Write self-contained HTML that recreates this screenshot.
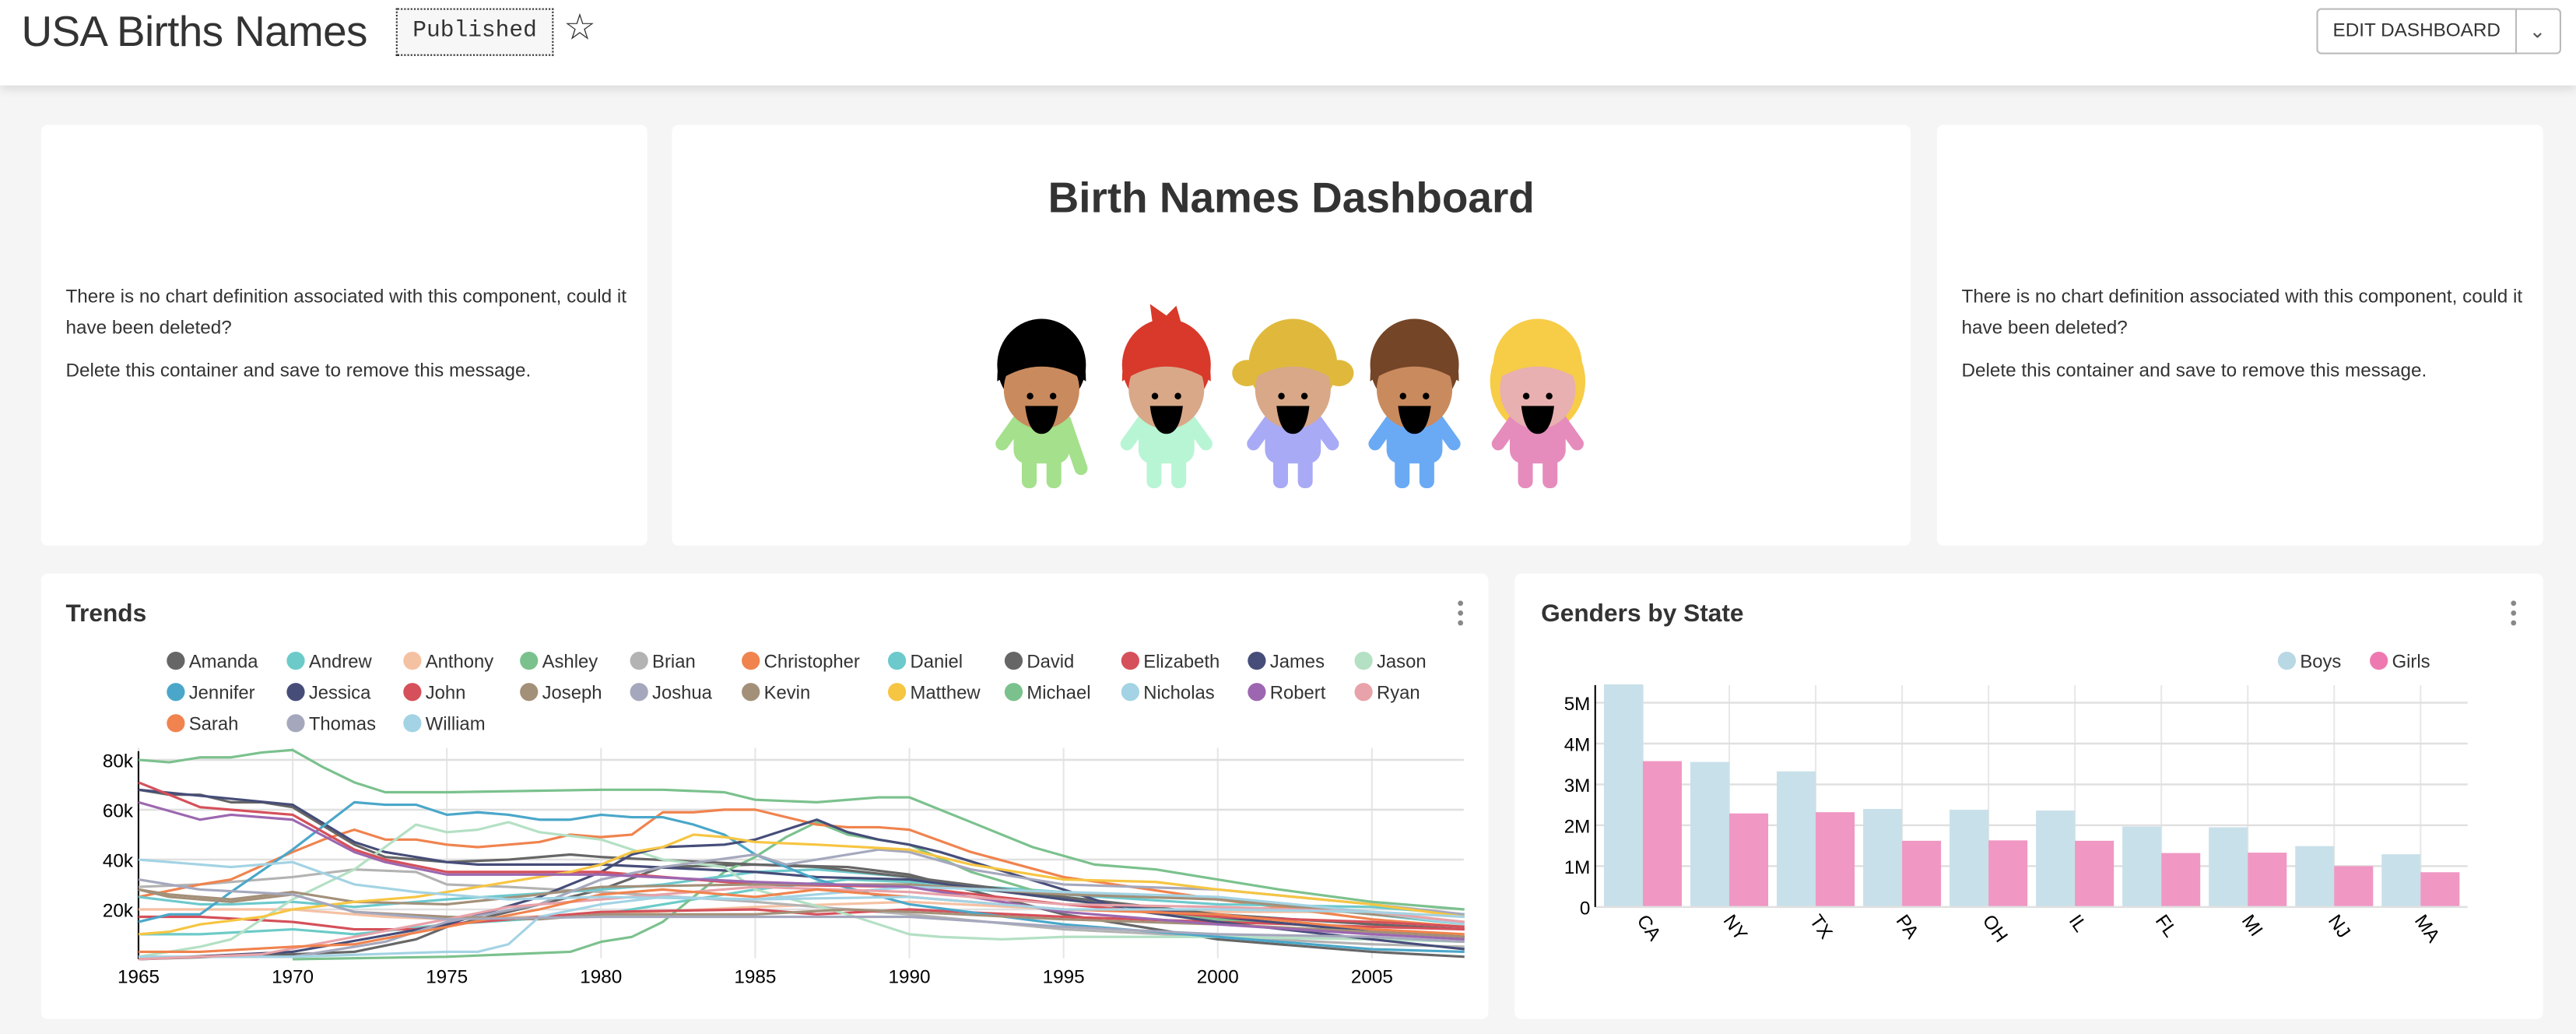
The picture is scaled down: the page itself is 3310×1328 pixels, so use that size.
<!DOCTYPE html>
<html><head><meta charset="utf-8">
<style>
html,body{margin:0;padding:0;background:#f5f5f5;overflow:hidden}
body{width:3310px;height:1328px}
#w{position:absolute;left:0;top:0;width:1568px;height:629px;transform:scale(2.11097);transform-origin:0 0;font-family:"Liberation Sans",Arial,sans-serif;color:#333}
.hdr{position:absolute;left:0;top:0;width:1568px;height:52px;background:#fff;box-shadow:0 2px 6px rgba(0,0,0,0.12)}
.card{position:absolute;background:#fff;border-radius:4px}
.msg{position:absolute;font-size:11.5px;line-height:19px;color:#333}
.msg p{margin:0 0 7px 0}
.abs{position:absolute;white-space:nowrap}
</style></head><body><div id="w">
<div class="hdr">
 <div class="abs" style="left:13px;top:4px;font-size:26px;color:#333;letter-spacing:-0.3px">USA Births Names</div>
 <div class="abs" style="left:241px;top:5px;width:94px;height:27px;border:1px dotted #333;background:#f7f7f7;font-family:'Liberation Mono',monospace;font-size:14px;line-height:27px;text-align:center">Published</div>
 <div class="abs" style="left:343px;top:4px;font-size:22px;color:#333">☆</div>
 <div class="abs" style="left:1410px;top:5px;width:120px;height:26px;border:1px solid #bbb;border-radius:3px 0 0 3px;font-size:11.5px;line-height:26px;text-align:center;color:#333">EDIT DASHBOARD</div>
 <div class="abs" style="left:1531px;top:5px;width:27px;height:26px;border:1px solid #bbb;border-left:none;border-radius:0 3px 3px 0;font-size:12px;line-height:26px;text-align:center;color:#555">⌄</div>
</div>

<div class="card" style="left:25px;top:76px;width:369px;height:256px"></div>
<div class="msg" style="left:40px;top:172px;width:345px"><p>There is no chart definition associated with this component, could it have been deleted?</p><p>Delete this container and save to remove this message.</p></div>
<div class="card" style="left:409px;top:76px;width:754px;height:256px"></div>
<div class="abs" style="left:409px;top:105px;width:754px;text-align:center;font-size:26px;font-weight:bold;color:#333">Birth Names Dashboard</div>
<div class="card" style="left:1179px;top:76px;width:369px;height:256px"></div>
<div class="msg" style="left:1194px;top:172px;width:345px"><p>There is no chart definition associated with this component, could it have been deleted?</p><p>Delete this container and save to remove this message.</p></div>

<svg class="abs" style="left:0;top:0" width="1568" height="340" id="kids"></svg>

<div class="card" style="left:25px;top:349px;width:881px;height:271px"></div>
<div class="abs" style="left:40px;top:365px;font-size:15px;font-weight:bold">Trends</div>
<div class="card" style="left:922px;top:349px;width:626px;height:271px"></div>
<div class="abs" style="left:938px;top:365px;font-size:15px;font-weight:bold">Genders by State</div>
<svg class="abs" style="left:0;top:340px" width="1568" height="289" id="ch"></svg>
</div>
<script>
var NS="http://www.w3.org/2000/svg";
function el(p,t,a,txt){var e=document.createElementNS(NS,t);for(var k in a)e.setAttribute(k,a[k]);if(txt!=null)e.textContent=txt;p.appendChild(e);return e;}
var K=document.getElementById('kids');
var kids=[[634,'#000','#c98a5e','#a5e08c',0],[710,'#d8392b','#d8a888','#b8f5d4',1],[787,'#e0b93c','#d8a888','#a9aaf5',2],[861,'#744526','#c98a5e','#6aaaf5',0],[936,'#f7cc47','#e8b0b0','#e58cbd',3]];
kids.forEach(function(k,i){var x=k[0];
 if(k[4]==3)el(K,'ellipse',{cx:x,cy:232,rx:29,ry:32,fill:k[1]});
 if(k[4]==1)el(K,'path',{d:'M'+(x-8)+' 200 L'+(x-10)+' 185 L'+(x)+' 192 L'+(x+6)+' 186 L'+(x+10)+' 200Z',fill:k[1]});
 if(k[4]==2){el(K,'ellipse',{cx:x-28,cy:227,rx:9,ry:8,fill:k[1]});el(K,'ellipse',{cx:x+28,cy:227,rx:9,ry:8,fill:k[1]});}
 el(K,'rect',{x:x-17,y:252,width:34,height:30,rx:8,fill:k[3]});
 el(K,'rect',{x:x-12,y:272,width:9,height:25,rx:4,fill:k[3]});
 el(K,'rect',{x:x+3,y:272,width:9,height:25,rx:4,fill:k[3]});
 el(K,'line',{x1:x-14,y1:256,x2:x-24,y2:270,stroke:k[3],'stroke-width':8,'stroke-linecap':'round'});
 el(K,'line',{x1:x+14,y1:256,x2:x+24,y2:(i==0?285:270),stroke:k[3],'stroke-width':8,'stroke-linecap':'round'});
 el(K,'ellipse',{cx:x,cy:222,rx:27,ry:28,fill:k[1]});
 el(K,'ellipse',{cx:x,cy:237,rx:23,ry:24,fill:k[2]});
 el(K,'path',{d:'M'+(x-27)+' 232 Q'+(x-27)+' 196 '+x+' 194 Q'+(x+27)+' 196 '+(x+27)+' 232 Q'+x+' 214 '+(x-27)+' 232Z',fill:k[1]});
 el(K,'circle',{cx:x-7,cy:241,r:2,fill:'#000'});el(K,'circle',{cx:x+7,cy:241,r:2,fill:'#000'});
 el(K,'path',{d:'M'+(x-10)+' 247 L'+(x+10)+' 247 Q'+(x+8)+' 264 '+x+' 264 Q'+(x-8)+' 264 '+(x-10)+' 247Z',fill:'#000'});
});
var C=document.getElementById('ch');var oy=340;
[889,1530].forEach(function(x){[367,373,379].forEach(function(y){el(C,'circle',{cx:x,cy:y-oy,r:1.6,fill:'#888'})})});
var cols={Amanda:'#666666',Andrew:'#6ccbc8',Anthony:'#f5c1a3',Ashley:'#7bc18d',Brian:'#b3b3b3',Christopher:'#f0834e',Daniel:'#6cc9cc',David:'#666666',Elizabeth:'#d5505a',James:'#464d79',Jason:'#b4e0c4',Jennifer:'#4aa7c9',Jessica:'#464d79',John:'#d5505a',Joseph:'#a39079',Joshua:'#a5a8bd',Kevin:'#a39079',Matthew:'#f6c542',Michael:'#7bc18d',Nicholas:'#a3d3e4',Robert:'#9c67b0',Ryan:'#e8a2a9',Sarah:'#f0834e',Thomas:'#a5a8bd',William:'#a3d3e4'};
var names=Object.keys(cols);var lx=[107,180,251,322,389,457,546,617,688,765,830];
names.forEach(function(n,i){var r=Math.floor(i/11),c=i%11;var y=402+r*19-oy;el(C,'circle',{cx:lx[c],cy:y,r:5.5,fill:cols[n]});el(C,'text',{x:lx[c]+8,y:y+4.2,'font-size':11.3,fill:'#333'},n);});
function X(yr){return 84.3+(yr-1965)*18.77} function Y(v){return 583.6-v*1.516-oy}
for(var yr=1965;yr<=2005;yr+=5){var x=X(yr);el(C,'line',{x1:x,y1:455-oy,x2:x,y2:583-oy,stroke:'#e6e6e6','stroke-width':1});el(C,'text',{x:x,y:598-oy,'font-size':11.5,'text-anchor':'middle',fill:'#000'},''+yr);}
[20,40,60,80].forEach(function(v){el(C,'line',{x1:84,y1:Y(v),x2:891,y2:Y(v),stroke:'#e0e0e0','stroke-width':1.2});el(C,'text',{x:81,y:Y(v)+4.5,'font-size':11.5,'text-anchor':'end',fill:'#000'},v+'k');});
el(C,'line',{x1:84.3,y1:457-oy,x2:84.3,y2:583.6-oy,stroke:'#000','stroke-width':1});
var D={
Michael:[[1965,80],[1966,79],[1967,81],[1968,81],[1969,83],[1970,84],[1971,77],[1972,71],[1973,67],[1975,67],[1980,68],[1982,68],[1984,67],[1985,64],[1987,63],[1989,65],[1990,65],[1992,55],[1994,45],[1996,38],[1998,36],[2000,32],[2002,28],[2005,23],[2008,20]],
Ashley:[[1970,0],[1975,1],[1977,2],[1979,3],[1980,7],[1981,9],[1982,15],[1984,35],[1985,41],[1986,49],[1987,55],[1988,50],[1990,46],[1992,35],[1995,24],[2000,16],[2005,12],[2008,9]],
James:[[1965,68],[1970,62],[1972,47],[1973,43],[1975,39],[1976,38],[1980,38],[1985,35],[1987,33],[1990,32],[1995,24],[2000,17],[2005,11],[2008,9]],
David:[[1965,68],[1966,66],[1967,66],[1968,63],[1969,63],[1970,61],[1972,46],[1973,41],[1975,39],[1977,40],[1979,42],[1980,41],[1985,38],[1987,37],[1990,33],[1995,25],[2000,18],[2005,14],[2008,12]],
John:[[1965,71],[1967,61],[1970,58],[1972,44],[1973,40],[1975,35],[1980,35],[1985,30],[1990,29],[1995,22],[2000,17],[2005,15],[2008,13]],
Robert:[[1965,63],[1967,56],[1968,58],[1970,56],[1972,43],[1973,39],[1975,34],[1980,34],[1985,31],[1990,29],[1995,19],[2000,14],[2005,10],[2008,8]],
Jennifer:[[1965,15],[1966,18],[1967,18],[1968,27],[1970,44],[1972,63],[1973,62],[1974,62],[1975,58],[1976,59],[1977,58],[1978,56],[1979,56],[1980,58],[1981,57],[1982,57],[1983,54],[1984,50],[1985,42],[1986,37],[1987,32],[1990,22],[1995,14],[2000,9],[2005,4],[2008,3]],
Christopher:[[1965,25],[1967,30],[1968,32],[1970,43],[1971,48],[1972,52],[1973,48],[1974,48],[1975,46],[1976,45],[1977,46],[1978,47],[1979,50],[1980,49],[1981,50],[1982,59],[1983,59],[1984,60],[1985,60],[1987,54],[1988,53],[1989,53],[1990,52],[1992,43],[1995,33],[2000,24],[2005,16],[2008,13]],
Jessica:[[1965,0],[1970,3],[1975,14],[1978,25],[1980,35],[1981,42],[1982,45],[1984,46],[1985,48],[1987,56],[1988,51],[1989,48],[1990,46],[1991,43],[1995,28],[1997,20],[2000,15],[2005,8],[2008,4]],
Matthew:[[1965,10],[1966,11],[1967,14],[1969,17],[1970,20],[1972,23],[1974,25],[1975,27],[1977,31],[1979,35],[1980,38],[1981,43],[1982,45],[1983,50],[1984,49],[1985,47],[1987,46],[1990,44],[1992,38],[1995,32],[1998,31],[2000,28],[2005,22],[2008,17]],
Jason:[[1965,1],[1967,5],[1968,8],[1970,24],[1972,36],[1974,54],[1975,51],[1976,52],[1977,55],[1978,51],[1980,48],[1982,40],[1984,37],[1985,28],[1988,18],[1990,10],[1991,9],[1993,8],[1995,9],[2000,9],[2005,8],[2008,7]],
Amanda:[[1965,0],[1970,2],[1972,3],[1974,8],[1975,13],[1980,28],[1982,37],[1985,38],[1988,37],[1990,34],[1995,18],[2000,8],[2005,3],[2008,1]],
Brian:[[1965,29],[1967,30],[1970,33],[1972,36],[1974,35],[1975,30],[1977,29],[1980,27],[1985,23],[1990,18],[1995,12],[2000,9],[2005,6],[2008,5]],
Andrew:[[1965,10],[1967,10],[1970,12],[1972,10],[1975,14],[1980,18],[1985,28],[1988,32],[1990,31],[1995,27],[2000,24],[2005,18],[2008,14]],
Daniel:[[1965,25],[1967,22],[1968,22],[1970,23],[1972,21],[1975,24],[1980,28],[1982,30],[1985,35],[1987,36],[1990,33],[1992,28],[1995,26],[2000,22],[2005,21],[2008,18]],
Anthony:[[1965,20],[1967,20],[1970,20],[1973,17],[1975,16],[1980,18],[1985,21],[1990,23],[1995,20],[2000,19],[2005,19],[2008,17]],
Elizabeth:[[1965,17],[1967,17],[1970,15],[1972,12],[1974,12],[1975,14],[1980,19],[1985,20],[1987,18],[1990,20],[1995,17],[2000,15],[2005,13],[2008,12]],
Joseph:[[1965,28],[1966,26],[1968,24],[1970,27],[1972,23],[1975,22],[1978,26],[1980,29],[1985,30],[1990,30],[1995,26],[2000,24],[2005,18],[2008,15]],
Kevin:[[1965,28],[1966,25],[1968,23],[1970,26],[1972,19],[1975,17],[1978,16],[1980,18],[1985,18],[1988,20],[1990,19],[1995,16],[2000,14],[2005,11],[2008,9]],
Joshua:[[1965,1],[1970,1],[1973,7],[1975,15],[1978,22],[1980,32],[1982,37],[1985,42],[1986,38],[1989,44],[1990,43],[1992,36],[1995,30],[2000,28],[2005,22],[2008,18]],
Thomas:[[1965,32],[1967,28],[1970,26],[1972,19],[1975,16],[1980,17],[1985,17],[1990,17],[1995,13],[2000,10],[2005,9],[2008,7]],
William:[[1965,40],[1967,38],[1968,37],[1970,39],[1972,30],[1974,27],[1975,26],[1977,24],[1980,25],[1985,24],[1990,25],[1995,20],[2000,20],[2005,19],[2008,17]],
Nicholas:[[1965,1],[1970,1],[1975,3],[1976,3],[1977,6],[1978,17],[1980,22],[1982,25],[1985,24],[1990,29],[1995,27],[2000,25],[2005,19],[2008,14]],
Ryan:[[1965,0],[1969,2],[1972,9],[1975,16],[1977,21],[1980,24],[1985,29],[1990,27],[1995,22],[2000,21],[2005,19],[2008,15]],
Sarah:[[1965,3],[1967,3],[1970,5],[1972,6],[1975,13],[1978,20],[1980,26],[1982,28],[1985,25],[1987,28],[1990,25],[1995,20],[2000,18],[2005,12],[2008,10]]};
names.forEach(function(n){if(!D[n])return;var p=D[n].map(function(q){return X(q[0]).toFixed(1)+','+Y(q[1]).toFixed(1)}).join(' ');el(C,'polyline',{points:p,fill:'none',stroke:cols[n],'stroke-width':1.5,'stroke-linejoin':'round'});});
function BY(v){return 551.8-v*24.85-oy}
for(var i=0;i<10;i++){var gx=1000+52.6*i;el(C,'line',{x1:gx,y1:416.8-oy,x2:gx,y2:551.8-oy,stroke:'#e8e8e8','stroke-width':1});}
[1,2,3,4,5].forEach(function(v){el(C,'line',{x1:971,y1:BY(v),x2:1502,y2:BY(v),stroke:'#e0e0e0','stroke-width':1.2});el(C,'text',{x:968,y:BY(v)+4.5,'font-size':11.5,'text-anchor':'end',fill:'#000'},v+'M');});
el(C,'text',{x:968,y:BY(0)+4.5,'font-size':11.5,'text-anchor':'end',fill:'#000'},'0');
var st=['CA','NY','TX','PA','OH','IL','FL','MI','NJ','MA'];
var boys=[5.45,3.55,3.32,2.40,2.38,2.36,1.97,1.95,1.49,1.29],girls=[3.57,2.29,2.32,1.62,1.63,1.62,1.32,1.33,1.00,0.85];
for(var i=0;i<10;i++){var bx=976.3+52.6*i;
 el(C,'rect',{x:bx,y:BY(boys[i]),width:23.7,height:boys[i]*24.85,fill:'#c8e0e9'});
 el(C,'rect',{x:bx+23.7,y:BY(girls[i]),width:23.7,height:girls[i]*24.85,fill:'#f097c3'});
 var tx=bx+23.7,ty=560-oy;el(C,'text',{x:tx-4,y:ty,'font-size':11.5,fill:'#000',transform:'rotate(55 '+(tx-4)+' '+ty+')'},st[i]);}
el(C,'line',{x1:971,y1:551.8-oy,x2:1502,y2:551.8-oy,stroke:'#e0e0e0','stroke-width':1.2});
el(C,'line',{x1:971,y1:416.8-oy,x2:971,y2:551.8-oy,stroke:'#000','stroke-width':1});
el(C,'circle',{cx:1392,cy:402-oy,r:5.5,fill:'#b8d8e4'});el(C,'text',{x:1400,y:406.2-oy,'font-size':11.3,fill:'#333'},'Boys');
el(C,'circle',{cx:1448,cy:402-oy,r:5.5,fill:'#ee79b0'});el(C,'text',{x:1456,y:406.2-oy,'font-size':11.3,fill:'#333'},'Girls');
</script>
</body></html>
